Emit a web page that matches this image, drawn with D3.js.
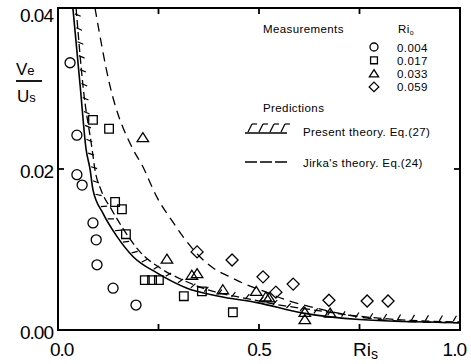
<!DOCTYPE html>
<html>
<head>
<meta charset="utf-8">
<script src="https://cdn.jsdelivr.net/npm/d3@7"></script>
<style>
  body { margin: 0; background: #fff; }
  text { font-family: "Liberation Sans", Arial, sans-serif; fill: #000; }
</style>
</head>
<body>
<div id="chart"></div>
<script>
var width = 471,
    height = 364;

// measurements [Ri_s, Ve/Us]
var ri004 = [[0.030,0.0332],[0.047,0.0242],[0.047,0.0193],[0.060,0.0180],[0.087,0.0133],
             [0.095,0.0112],[0.097,0.0081],[0.137,0.0052],[0.194,0.0031]];
var ri017 = [[0.087,0.0261],[0.127,0.0250],[0.142,0.0159],[0.159,0.0150],[0.169,0.0119],
             [0.216,0.0062],[0.234,0.0062],[0.251,0.0062],[0.313,0.0042],[0.358,0.0048],[0.435,0.0022]];
var ri033 = [[0.211,0.0239],[0.271,0.0088],[0.333,0.0068],[0.346,0.0070],[0.410,0.0050],
             [0.493,0.0048],[0.517,0.0041],[0.525,0.0040],[0.614,0.0022],[0.614,0.0013],[0.677,0.0021]];
var ri059 = [[0.346,0.0097],[0.433,0.0087],[0.510,0.0066],[0.542,0.0047],[0.585,0.0057],
             [0.674,0.0037],[0.769,0.0036],[0.821,0.0036]];

// predictions
var presentTheory = [[0.037,0.0400],[0.055,0.0304],[0.070,0.0224],[0.080,0.0199],[0.087,0.0174],
                     [0.112,0.0145],[0.147,0.0116],[0.187,0.0091],[0.246,0.0071],[0.321,0.0052],
                     [0.400,0.0042],[0.495,0.0034],[0.610,0.0021],[0.750,0.0013],[1.000,0.0009]];
var jirkaLow = [[0.045,0.0400],[0.062,0.0304],[0.085,0.0224],[0.092,0.0199],[0.107,0.0174],
                [0.134,0.0149],[0.167,0.0122],[0.204,0.0097],[0.254,0.0077],[0.311,0.0062],
                [0.386,0.0048],[0.470,0.0039],[0.552,0.0031],[0.634,0.0025],[0.751,0.0017],
                [0.876,0.0012],[1.000,0.0010]];
var jirkaHigh = [[0.092,0.0400],[0.129,0.0304],[0.187,0.0224],[0.209,0.0205],[0.246,0.0165],
                 [0.286,0.0134],[0.311,0.0116],[0.353,0.0091],[0.386,0.0077],[0.428,0.0066],
                 [0.470,0.0056],[0.502,0.0050],[0.570,0.0037],[0.644,0.0027],[0.751,0.0016],
                 [0.851,0.0011],[1.000,0.0009]];

var xTicks = [0, 0.5, 1.0],
    xTickLabels = ["0.0", "0.5", "1.0"],
    xMinor = [0.25, 0.5, 0.75],
    yTicks = [0, 0.02, 0.04],
    yTickLabels = ["0.00", "0.02", "0.04"],
    legendLabels = ["0.004", "0.017", "0.033", "0.059"];

var x = d3.scaleLinear().domain([0, 1]).range([58, 460]),
    y = d3.scaleLinear().domain([0, 0.04]).range([330, 8]);

var svg = d3.select("#chart").append("svg")
    .attr("width", width)
    .attr("height", height);

svg.append("clipPath").attr("id", "plot")
  .append("rect")
    .attr("x", x(0)).attr("y", y(0.04))
    .attr("width", x(1) - x(0)).attr("height", y(0) - y(0.04));

/* marker shapes */
function marker(kind, s) {
  if (kind == "circle") return d3.symbol().type(d3.symbolCircle).size(Math.PI * s * s)();
  if (kind == "square") return "M" + (-s) + "," + (-s) + "h" + 2*s + "v" + 2*s + "h" + (-2*s) + "Z";
  if (kind == "triangle") return "M0," + (-s) + "L" + (1.15*s) + "," + (0.8*s) + "L" + (-1.15*s) + "," + (0.8*s) + "Z";
  return "M0," + (-1.25*s) + "L" + (1.25*s) + ",0L0," + (1.25*s) + "L" + (-1.25*s) + ",0Z";
}

var line = d3.line()
    .x(function(d){ return x(d[0]); })
    .y(function(d){ return y(d[1]); })
    .curve(d3.curveMonotoneX);

var curves = svg.append("g").attr("clip-path", "url(#plot)")
    .attr("fill", "none").attr("stroke", "#000");

var solid = curves.append("path")
    .attr("d", line(presentTheory))
    .attr("stroke-width", 1.6);

curves.append("path")
    .attr("d", line(jirkaLow))
    .attr("stroke-width", 1.3)
    .attr("stroke-dasharray", "8,4");

curves.append("path")
    .attr("d", line(jirkaHigh))
    .attr("stroke-width", 1.3)
    .attr("stroke-dasharray", "9,6");

/* hatch strokes on the upper side of the present theory curve */
var node = solid.node(),
    total = node.getTotalLength();
for (var l = 6; l < total - 4; l += 14) {
  var p = node.getPointAtLength(l),
      q = node.getPointAtLength(l + 1),
      tx = q.x - p.x, ty = q.y - p.y,
      len = Math.sqrt(tx*tx + ty*ty);
  tx /= len; ty /= len;
  var nx = ty, ny = -tx;
  curves.append("line")
      .attr("x1", p.x + nx*1.5).attr("y1", p.y + ny*1.5)
      .attr("x2", p.x + nx*7 + tx*3).attr("y2", p.y + ny*7 + ty*3)
      .attr("stroke-width", 1.2);
}

/* measurements */
var series = [[ri004, "circle", 5], [ri017, "square", 4.3], [ri033, "triangle", 5], [ri059, "diamond", 4.8]];
series.forEach(function(s) {
  svg.append("g").selectAll("path")
      .data(s[0])
    .enter().append("path")
      .attr("transform", function(d){ return "translate(" + x(d[0]) + "," + y(d[1]) + ")"; })
      .attr("d", marker(s[1], s[2]))
      .attr("fill", "none")
      .attr("stroke", "#000")
      .attr("stroke-width", 1.3);
});

/* frame and ticks */
svg.append("rect")
    .attr("x", x(0)).attr("y", y(0.04))
    .attr("width", x(1) - x(0)).attr("height", y(0) - y(0.04))
    .attr("fill", "none").attr("stroke", "#000").attr("stroke-width", 2);

var ticks = svg.append("g").attr("stroke", "#000").attr("stroke-width", 1.8);
xMinor.forEach(function(v) {
  ticks.append("line").attr("x1", x(v)).attr("x2", x(v)).attr("y1", y(0)).attr("y2", y(0) - 6);
  ticks.append("line").attr("x1", x(v)).attr("x2", x(v)).attr("y1", y(0.04)).attr("y2", y(0.04) + 6);
});
ticks.append("line").attr("x1", x(0)).attr("x2", x(0) + 6).attr("y1", y(0.02)).attr("y2", y(0.02));
ticks.append("line").attr("x1", x(1)).attr("x2", x(1) - 6).attr("y1", y(0.02)).attr("y2", y(0.02));

/* tick labels */
svg.selectAll("text.ytick")
    .data(yTicks)
  .enter().append("text")
    .attr("class", "ytick")
    .attr("x", 53)
    .attr("y", function(d){ return Math.max(y(d) + 9, 22); })
    .attr("text-anchor", "end")
    .style("font-size", "19px")
    .style("letter-spacing", "-1px")
    .text(function(d, i){ return yTickLabels[i]; });

svg.selectAll("text.xtick")
    .data(xTicks)
  .enter().append("text")
    .attr("class", "xtick")
    .attr("x", function(d, i){ return i == 0 ? x(d) - 8 : i == xTicks.length - 1 ? x(d) + 6 : x(d); })
    .attr("y", 356)
    .attr("text-anchor", function(d, i){ return i == 0 ? "start" : i == xTicks.length - 1 ? "end" : "middle"; })
    .style("font-size", "19px")
    .style("letter-spacing", "-1px")
    .text(function(d, i){ return xTickLabels[i]; });

/* axis titles */
var xt = svg.append("text").attr("x", 353).attr("y", 356).style("font-size", "19px");
xt.append("tspan").text("Ri");
xt.append("tspan").attr("dy", 3).style("font-size", "14px").text("s");

var yt1 = svg.append("text").attr("x", 16).attr("y", 75).style("font-size", "17px");
yt1.append("tspan").text("V");
yt1.append("tspan").style("font-size", "13px").text("e");
svg.append("line").attr("x1", 16).attr("x2", 42).attr("y1", 81).attr("y2", 81)
    .attr("stroke", "#000").attr("stroke-width", 1.8);
var yt2 = svg.append("text").attr("x", 17).attr("y", 102).style("font-size", "17px");
yt2.append("tspan").text("U");
yt2.append("tspan").style("font-size", "13px").text("s");

/* legend */
var legend = svg.append("g").style("font-size", "11.5px").style("letter-spacing", "0.4px");
legend.append("text").attr("x", 263).attr("y", 33).text("Measurements");
var r0 = legend.append("text").attr("x", 398).attr("y", 33);
r0.append("tspan").text("Ri");
r0.append("tspan").attr("dy", 2).style("font-size", "7px").text("o");

series.forEach(function(s, i) {
  var cy = 47 + i * 13.3;
  legend.append("path")
      .attr("transform", "translate(374," + cy + ")")
      .attr("d", marker(s[1], s[2] * 0.8))
      .attr("fill", "none").attr("stroke", "#000").attr("stroke-width", 1.3);
  legend.append("text").attr("x", 397).attr("y", cy + 4.5).text(legendLabels[i]);
});

legend.append("text").attr("x", 263).attr("y", 112).text("Predictions");

legend.append("line").attr("x1", 245).attr("x2", 287).attr("y1", 133).attr("y2", 133)
    .attr("stroke", "#000").attr("stroke-width", 1.3);
[248, 259, 270, 281].forEach(function(hx) {
  legend.append("line").attr("x1", hx).attr("x2", hx + 4).attr("y1", 132).attr("y2", 124)
      .attr("stroke", "#000").attr("stroke-width", 1.2);
  legend.append("line").attr("x1", hx + 4).attr("x2", hx + 9).attr("y1", 124).attr("y2", 124)
      .attr("stroke", "#000").attr("stroke-width", 1.2);
});
legend.append("text").attr("x", 303).attr("y", 136).text("Present theory. Eq.(27)");

legend.append("line").attr("x1", 245).attr("x2", 287).attr("y1", 162).attr("y2", 162)
    .attr("stroke", "#000").attr("stroke-width", 1.3).attr("stroke-dasharray", "12,3");
legend.append("text").attr("x", 303).attr("y", 167).text("Jirka's theory.  Eq.(24)");
</script>
</body>
</html>
